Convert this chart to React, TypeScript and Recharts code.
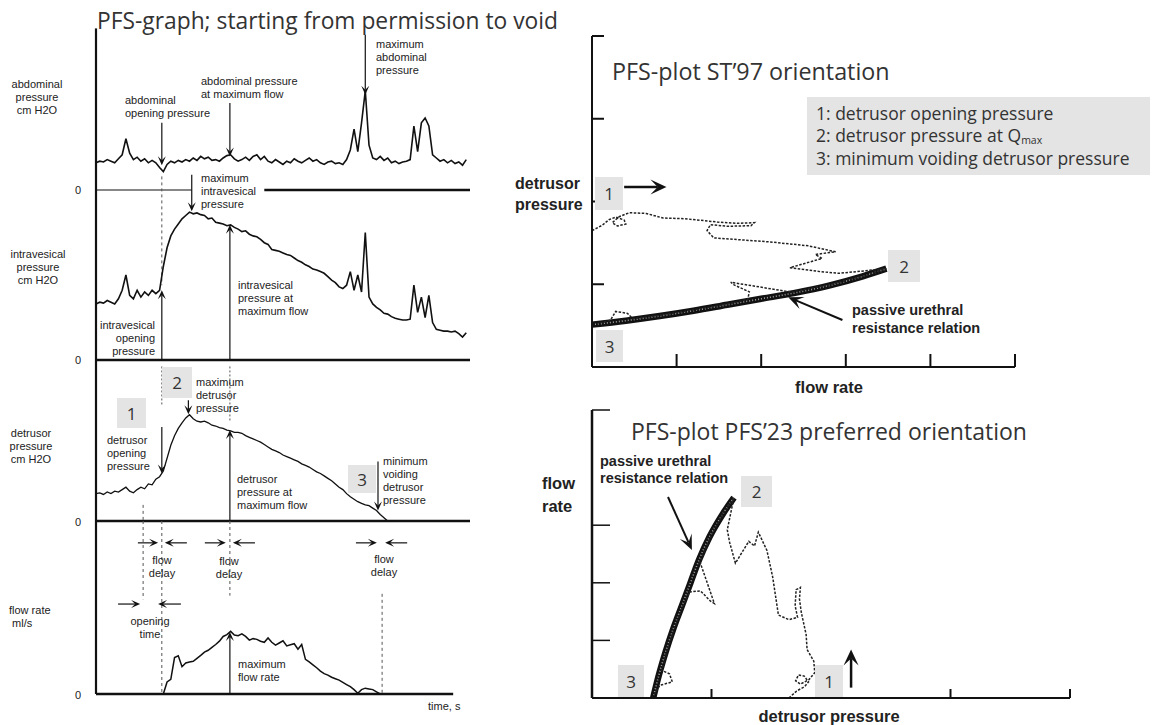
import React from "react";
import { LineChart, Line, XAxis, YAxis, ReferenceLine } from "recharts";

// PFS-graph, one sample per second from permission to void (s)
const abdominal = [
  17, 18, 17.5, 19, 18, 17, 19.5, 22, 32, 23,
  19, 20.5, 18, 19.5, 17, 18.5, 17, 14, 11.5, 16,
  18, 17, 18.5, 17.5, 19, 18, 20, 18.5, 21, 19.5,
  20.5, 18.5, 19, 18, 20, 21.5, 22, 19.5, 18, 19,
  20.5, 18.5, 21, 22, 19, 21, 18, 17, 19, 17.5,
  16, 18, 17, 19.5, 18, 17, 18.5, 20, 18, 19,
  17, 16, 17.5, 18, 16.5, 17, 16, 19, 25, 38,
  24, 42, 62, 28, 20, 19, 21, 18.5, 20, 17,
  18, 16.5, 17.5, 18, 19, 40, 24, 42, 45, 40,
  22, 20, 18, 19, 17, 18.5, 16.5, 17.5, 15.5, 19,
];

const intravesical = [
  33, 34, 33.5, 35, 34, 33, 36, 41, 50, 38,
  36, 41, 37, 40, 38, 41, 39, 41, 55, 66,
  73, 77, 80, 83, 85, 87, 86, 86.5, 85.5, 85,
  83, 83.5, 81, 80.5, 80, 79, 79.5, 78, 77, 75.5,
  76, 74, 73, 72.5, 71, 69, 68, 65, 64.5, 64,
  63, 62, 61.5, 60, 58.5, 57.5, 56, 55, 53.5, 53,
  52, 51, 49, 47, 45.5, 43, 42, 44, 52, 41,
  50, 40, 75, 37, 33, 31, 29.5, 27.5, 27, 25.5,
  24.5, 24, 23.5, 23.5, 24, 44, 28, 37, 25, 38,
  22, 18, 17.5, 17, 17, 16.5, 17, 15.5, 13.5, 16,
];

const detrusor = [
  17, 17.5, 16.5, 18, 17, 18.5, 18, 19.5, 21, 18.5,
  17.5, 19.5, 21, 20, 23, 22.5, 26, 27.5, 31, 39,
  47, 53, 57.5, 61, 64, 66, 63.5, 62, 61.5, 62,
  61, 59.5, 59, 58, 57.5, 56.5, 56, 55, 55, 54.5,
  53, 52, 51, 50, 49, 47.5, 46, 44.5, 43.5, 42.5,
  41, 40, 39, 38, 37, 35.5, 34.5, 33.5, 32, 30.5,
  29.5, 28, 26.5, 25, 23, 21, 19.5, 17, 15, 13.5,
  12, 11, 10, 9.5, 8, 6.5, 4, 2, 0, 0, 0,
];

const flowRate = [
  null, null, null, null, null, null, null, null, null, null,
  null, null, null, null, null, null, null, null, 0, 3.3,
  4, 10, 10.5, 7.5, 8.5, 8.8, 9, 9.8, 10.6, 11.5,
  12, 12.8, 13.6, 14.5, 15.8, 16.3, 17.2, 16.2, 16, 16.5,
  15.8, 14.8, 15.2, 15, 14.5, 14.2, 15.4, 14.2, 13.4, 14,
  14.6, 13.2, 13.5, 13.8, 12.3, 13.6, 9.5, 8.8, 8, 7.2,
  6.3, 5.6, 5.2, 4.6, 4.2, 3.8, 3.2, 2.6, 2, 1.2,
  0.2, 1.2, 1.6, 1.4, 1.2, 0.6, 0,
];

// PFS-plot trace: flow rate (ml/s) against detrusor pressure (cm H2O)
const pfsFlow = [
  0, 0.6, 1.0, 1.4, 1.9, 2.0, 1.5, 1.2, 1.6, 2.2, 3.2, 4.2, 5.5, 7.4, 8.6, 9.6, 9.4, 8.0, 7.0, 6.8,
  7.2, 10.5, 12.8, 14.4, 13.2, 13.6, 11.7, 13.5, 14.6, 17.4,
  16.0, 14.0, 11.8, 8.2, 8.4, 9.3, 9.2, 8.0, 6.0, 4.0, 2.4, 2.1, 1.4, 1.1, 0.3,
];
const pfsPressure = [
  41.2, 42.8, 44.5, 45.3, 44.4, 43.2, 42.6, 43.6, 45.4, 46.6, 46.4, 45.0, 44.8, 43.8, 43.4, 43.6, 42.7, 42.5, 43.0, 41.2,
  39.0, 37.8, 36.6, 34.8, 34.0, 32.8, 30.0, 28.8, 28.3, 29.7,
  27.4, 24.8, 22.6, 25.6, 24.8, 22.7, 20.4, 19.0, 17.2, 15.6, 14.6, 16.2, 16.8, 14.2, 13.0,
];

// passive urethral resistance relation
const purrFlow = [0, 2, 4, 6, 8, 10, 12, 14, 16, 17.4];
const purrPressure = [12.8, 14.0, 15.4, 17.0, 18.8, 20.6, 22.4, 24.6, 27.4, 29.7];

const graphRows = abdominal.map((v, i) => ({
  t: i,
  abd: v,
  ves: intravesical[i],
  det: i < detrusor.length ? detrusor[i] : null,
  flow: i < flowRate.length ? flowRate[i] : null,
}));
const pfsTrace = pfsFlow.map((f, i) => ({ flow: f, pressure: pfsPressure[i] }));
const purrCurve = purrFlow.map((f, i) => ({ flow: f, pressure: purrPressure[i] }));

const SMALL = '"Liberation Sans", Arial, sans-serif';
const TITLE = '"Open Sans", "Noto Sans", sans-serif';
const INK = "#111";
const M = 40;
const LX = 96;
const LW = 374;

const PATTERN = {
  backgroundColor: "#e4e4e4",
  backgroundImage: "radial-gradient(circle, #c6c6c6 0.5px, transparent 0.7px)",
  backgroundSize: "2px 2px",
};

function ArrowPath(p: any) {
  const { x1, y1, x2, y2, head = 9, half = 4, w = 1.2, color = INK } = p;
  const dx = x2 - x1;
  const dy = y2 - y1;
  const len = Math.hypot(dx, dy) || 1;
  const ux = dx / len;
  const uy = dy / len;
  const bx = x2 - ux * head;
  const by = y2 - uy * head;
  const nx = x2 - ux * head * 0.55;
  const ny = y2 - uy * head * 0.55;
  return (
    <g>
      <line x1={x1} y1={y1} x2={nx} y2={ny} stroke={color} strokeWidth={w} />
      <path
        d={`M${x2},${y2} L${bx - uy * half},${by + ux * half} L${nx},${ny} L${bx + uy * half},${by - ux * half} Z`}
        fill={color}
      />
    </g>
  );
}

const arrow = (head = 9, half = 4, w = 1.2) => (p: any) => <ArrowPath {...p} head={head} half={half} w={w} />;

const seg = (x1: number, y1: number, x2: number, y2: number) => [
  { x: x1, y: y1 },
  { x: x2, y: y2 },
];

function Label({
  x, y, lines, size = 11, lh = 13, align = "left", bold = false, font = SMALL, color = "#222",
}: {
  x: number; y: number; lines: React.ReactNode[]; size?: number; lh?: number;
  align?: "left" | "center" | "right"; bold?: boolean; font?: string; color?: string;
}) {
  const shift = align === "center" ? "-50%" : align === "right" ? "-100%" : "0";
  return (
    <div
      style={{
        position: "absolute", left: x, top: y - lh / 2, transform: `translateX(${shift})`,
        fontFamily: font, fontSize: size, lineHeight: `${lh}px`, fontWeight: bold ? 700 : 400,
        color, textAlign: align, whiteSpace: "nowrap",
      }}
    >
      {lines.map((l, i) => (
        <div key={i} style={{ height: lh }}>{l}</div>
      ))}
    </div>
  );
}

function NumBox({ x, y, w, h, n }: { x: number; y: number; w: number; h: number; n: string }) {
  return (
    <div
      style={{
        position: "absolute", left: x, top: y, width: w, height: h, ...PATTERN,
        display: "flex", alignItems: "center", justifyContent: "center",
        fontFamily: TITLE, fontSize: 17, color: "#333",
      }}
    >
      {n}
    </div>
  );
}

const at = (left: number, top: number) => ({ position: "absolute" as const, left: left - M, top: top - M });
const margin = { top: M, right: M, bottom: M, left: M };
const trace = { stroke: INK, strokeWidth: 1.6, dot: false, type: "linear" as const, isAnimationActive: false };
const dash = { stroke: "#555", strokeWidth: 1, strokeDasharray: "3 3", ifOverflow: "visible" as const };
const zero = { stroke: INK, strokeWidth: 2.5, ifOverflow: "visible" as const };
const axisRef = { stroke: INK, strokeWidth: 2.2, ifOverflow: "visible" as const };
const pfsLine = { stroke: "#222", strokeWidth: 1.5, strokeDasharray: "2.5 1.5", dot: false, type: "linear" as const, isAnimationActive: false };

export default function App() {
  return (
    <div style={{ position: "absolute", left: 0, top: 0, width: 1156, height: 725, background: "#fff", overflow: "hidden" }}>
      {/* abdominal pressure */}
      <div style={at(LX, 30)}>
        <LineChart width={LW + 2 * M} height={160 + 2 * M} data={graphRows} margin={margin}>
          <XAxis dataKey="t" type="number" domain={[0, 100]} hide />
          <YAxis type="number" domain={[0, 100]} hide />
          <ReferenceLine segment={seg(0, 0, 0, 101)} {...axisRef} />
          <ReferenceLine segment={seg(0, 0, 25.6, 0)} stroke={INK} strokeWidth={1.1} ifOverflow="visible" />
          <ReferenceLine segment={seg(45, 0, 100, 0)} {...zero} />
          <Line dataKey="abd" {...trace} />
          <ReferenceLine segment={seg(17.6, 42, 17.6, 15.5)} ifOverflow="visible" shape={arrow()} />
          <ReferenceLine segment={seg(35.8, 54.4, 35.8, 21)} ifOverflow="visible" shape={arrow()} />
          <ReferenceLine segment={seg(72, 97, 72, 59.5)} ifOverflow="visible" shape={arrow()} />
        </LineChart>
      </div>

      {/* intravesical pressure */}
      <div style={at(LX, 190)}>
        <LineChart width={LW + 2 * M} height={170 + 2 * M} data={graphRows} margin={margin}>
          <XAxis dataKey="t" type="number" domain={[0, 100]} hide />
          <YAxis type="number" domain={[0, 100]} hide />
          <ReferenceLine segment={seg(0, 0, 0, 100)} {...axisRef} />
          <ReferenceLine segment={seg(0, 0, 100, 0)} {...zero} />
          <ReferenceLine segment={seg(17.6, 108, 17.6, 44)} {...dash} />
          <Line dataKey="ves" {...trace} />
          <ReferenceLine segment={seg(25.6, 109, 25.6, 87.5)} ifOverflow="visible" shape={arrow()} />
          <ReferenceLine segment={seg(17.6, 0, 17.6, 41)} ifOverflow="visible" shape={arrow()} />
          <ReferenceLine segment={seg(35.8, 0, 35.8, 79.5)} ifOverflow="visible" shape={arrow()} />
        </LineChart>
      </div>

      {/* detrusor pressure */}
      <div style={at(LX, 360)}>
        <LineChart width={LW + 2 * M} height={161 + 2 * M} data={graphRows} margin={margin}>
          <XAxis dataKey="t" type="number" domain={[0, 100]} hide />
          <YAxis type="number" domain={[0, 100]} hide />
          <ReferenceLine segment={seg(0, 0, 0, 100)} {...axisRef} />
          <ReferenceLine segment={seg(0, 0, 100, 0)} {...zero} />
          <ReferenceLine segment={seg(17.6, 96, 17.6, 72)} {...dash} strokeDasharray="2 2" />
          <ReferenceLine segment={seg(35.8, 96, 35.8, 62)} {...dash} strokeDasharray="2 2" />
          <ReferenceLine segment={seg(12.6, 10, 12.6, 0)} {...dash} />
          <Line dataKey="det" {...trace} strokeWidth={1.3} />
          <ReferenceLine segment={seg(17.6, 58.4, 17.6, 29.5)} ifOverflow="visible" shape={arrow()} />
          <ReferenceLine segment={seg(24.7, 75, 24.7, 66.3)} ifOverflow="visible" shape={arrow()} />
          <ReferenceLine segment={seg(35.8, 0, 35.8, 56.5)} ifOverflow="visible" shape={arrow()} />
          <ReferenceLine segment={seg(75.4, 37, 75.4, 6.5)} ifOverflow="visible" shape={arrow()} />
        </LineChart>
      </div>

      {/* flow rate */}
      <div style={at(LX, 521)}>
        <LineChart width={LW + 2 * M} height={173 + 2 * M} data={graphRows} margin={margin}>
          <XAxis dataKey="t" type="number" domain={[0, 100]} hide />
          <YAxis type="number" domain={[0, 47.5]} hide />
          <ReferenceLine segment={seg(0, 0, 0, 47.5)} {...axisRef} />
          <ReferenceLine segment={seg(0, 0, 95.5, 0)} {...zero} />
          <ReferenceLine segment={seg(12.6, 47.5, 12.6, 26)} {...dash} />
          <ReferenceLine segment={seg(17.6, 47.5, 17.6, 0)} {...dash} />
          <ReferenceLine segment={seg(35.8, 47.5, 35.8, 27)} {...dash} />
          <ReferenceLine segment={seg(76.5, 27.5, 76.5, 0)} {...dash} />
          <Line dataKey="flow" {...trace} strokeWidth={1.5} />
          <ReferenceLine segment={seg(11.2, 41.5, 16.6, 41.5)} ifOverflow="visible" shape={arrow()} />
          <ReferenceLine segment={seg(24.3, 41.5, 18.4, 41.5)} ifOverflow="visible" shape={arrow()} />
          <ReferenceLine segment={seg(29.1, 41.5, 34.7, 41.5)} ifOverflow="visible" shape={arrow()} />
          <ReferenceLine segment={seg(42.5, 41.5, 36.6, 41.5)} ifOverflow="visible" shape={arrow()} />
          <ReferenceLine segment={seg(69.5, 41.5, 75.1, 41.5)} ifOverflow="visible" shape={arrow()} />
          <ReferenceLine segment={seg(83.2, 41.5, 77.3, 41.5)} ifOverflow="visible" shape={arrow()} />
          <ReferenceLine segment={seg(5.9, 24.7, 11.8, 24.7)} ifOverflow="visible" shape={arrow()} />
          <ReferenceLine segment={seg(22.7, 24.7, 16.6, 24.7)} ifOverflow="visible" shape={arrow()} />
          <ReferenceLine segment={seg(35.8, 0, 35.8, 17)} ifOverflow="visible" shape={arrow()} />
        </LineChart>
      </div>

      {/* PFS-plot, ST'97 orientation: flow on x, pressure on y */}
      <div style={at(592, 36)}>
        <LineChart width={423 + 2 * M} height={331 + 2 * M} margin={margin}>
          <XAxis
            dataKey="flow" type="number" domain={[0, 25]} ticks={[5, 10, 15, 20, 25]} mirror tickSize={13}
            tickFormatter={() => ""} axisLine={{ stroke: INK, strokeWidth: 2 }} tickLine={{ stroke: INK, strokeWidth: 2 }}
          />
          <YAxis
            type="number" domain={[0, 100]} ticks={[25, 50, 75, 100]} mirror tickSize={12}
            tickFormatter={() => ""} axisLine={{ stroke: INK, strokeWidth: 2 }} tickLine={{ stroke: INK, strokeWidth: 2 }}
          />
          <Line data={purrCurve} dataKey="pressure" type="monotone" stroke={INK} strokeWidth={6.5} dot={false} isAnimationActive={false} />
          <Line data={purrCurve} dataKey="pressure" type="monotone" stroke="#a0a0a0" strokeWidth={1.6} strokeDasharray="1 2" dot={false} isAnimationActive={false} />
          <Line data={pfsTrace} dataKey="pressure" {...pfsLine} />
          <ReferenceLine segment={seg(1.9, 54.4, 4.4, 54.4)} ifOverflow="visible" shape={arrow(16, 7.5, 2.5)} />
          <ReferenceLine segment={seg(14.8, 14.2, 11.6, 21.1)} ifOverflow="visible" shape={arrow(15, 6.5, 2)} />
        </LineChart>
      </div>

      {/* PFS-plot, PFS'23 orientation: pressure on x, flow on y */}
      <div style={at(592, 410)}>
        <LineChart width={478 + 2 * M} height={288 + 2 * M} margin={margin}>
          <XAxis
            dataKey="pressure" type="number" domain={[0, 100]} ticks={[25, 50, 75, 100]} mirror tickSize={9}
            tickFormatter={() => ""} axisLine={{ stroke: INK, strokeWidth: 2 }} tickLine={{ stroke: INK, strokeWidth: 2 }}
          />
          <YAxis
            type="number" domain={[0, 25]} ticks={[5, 10, 15, 25]} mirror tickSize={18}
            tickFormatter={() => ""} axisLine={{ stroke: INK, strokeWidth: 2.5 }} tickLine={{ stroke: INK, strokeWidth: 1.5 }}
          />
          <Line data={purrCurve} dataKey="flow" type="monotone" stroke={INK} strokeWidth={6.5} dot={false} isAnimationActive={false} />
          <Line data={purrCurve} dataKey="flow" type="monotone" stroke="#a0a0a0" strokeWidth={1.6} strokeDasharray="1 2" dot={false} isAnimationActive={false} />
          <Line data={pfsTrace} dataKey="flow" {...pfsLine} />
          <ReferenceLine segment={seg(15.9, 17.45, 20.9, 12.85)} ifOverflow="visible" shape={arrow(15, 6.5, 2)} />
          <ReferenceLine segment={seg(54.2, 0.9, 54.2, 4.2)} ifOverflow="visible" shape={arrow(16, 7.5, 2.5)} />
        </LineChart>
      </div>

      {/* titles */}
      <Label x={97} y={21} lines={["PFS-graph; starting from permission to void"]} font={TITLE} size={22.8} lh={28} color="#333" />
      <Label x={612} y={71} lines={["PFS-plot ST\u201997 orientation"]} font={TITLE} size={23.3} lh={28} color="#333" />
      <Label x={631} y={431} lines={["PFS-plot PFS\u201923 preferred orientation"]} font={TITLE} size={23} lh={28} color="#333" />

      {/* legend */}
      <div style={{ position: "absolute", left: 807, top: 97, width: 343, height: 78, ...PATTERN }} />
      <Label
        x={816} y={113} lh={22.5} size={17.5} font={TITLE} color="#333"
        lines={[
          "1: detrusor opening pressure",
          <span key="q">
            2: detrusor pressure at Q
            <span style={{ fontSize: 10.5, lineHeight: "10px", position: "relative", top: 2 }}>max</span>
          </span>,
          "3: minimum voiding detrusor pressure",
        ]}
      />

      {/* left axis labels */}
      <Label x={37} y={84} align="center" lines={["abdominal", "pressure", "cm H2O"]} />
      <Label x={38} y={254} align="center" lines={["intravesical", "pressure", "cm H2O"]} />
      <Label x={31} y={433} align="center" lines={["detrusor", "pressure", "cm H2O"]} />
      <Label x={9} y={610} lines={["flow rate", "\u00a0ml/s"]} />
      <Label x={78} y={190} align="center" lines={["0"]} />
      <Label x={78} y={360} align="center" lines={["0"]} />
      <Label x={78} y={522} align="center" lines={["0"]} />
      <Label x={78} y={695} align="center" lines={["0"]} />
      <Label x={428} y={706} lines={["time, s"]} />

      {/* left annotations */}
      <Label x={125} y={100} lines={["abdominal", "opening pressure"]} />
      <Label x={201} y={81} lines={["abdominal pressure", "at maximum flow"]} />
      <Label x={376} y={44} lines={["maximum", "abdominal", "pressure"]} />
      <Label x={201} y={178} lines={["maximum", "intravesical", "pressure"]} />
      <Label x={155} y={325} align="right" lines={["intravesical", "opening", "pressure"]} />
      <Label x={238} y={285} lines={["intravesical", "pressure at", "maximum flow"]} />
      <Label x={107} y={440} lines={["detrusor", "opening", "pressure"]} />
      <Label x={196} y={382} lines={["maximum", "detrusor", "pressure"]} />
      <Label x={237} y={479} lines={["detrusor", "pressure at", "maximum flow"]} />
      <Label x={383} y={461} lines={["minimum", "voiding", "detrusor", "pressure"]} />
      <Label x={162} y={560} align="center" lines={["flow", "delay"]} />
      <Label x={229} y={561} align="center" lines={["flow", "delay"]} />
      <Label x={384} y={559} align="center" lines={["flow", "delay"]} />
      <Label x={150} y={621} align="center" lines={["opening", "time"]} />
      <Label x={238} y={664} lines={["maximum", "flow rate"]} />

      <NumBox x={117} y={398} w={29} h={30} n="1" />
      <NumBox x={162} y={367} w={30} h={31} n="2" />
      <NumBox x={348} y={465} w={28} h={28} n="3" />

      {/* right-hand labels */}
      <Label x={515} y={183} lh={21} size={16} bold lines={["detrusor", "pressure"]} />
      <Label x={829} y={387} size={16.5} bold align="center" lines={["flow rate"]} />
      <Label x={852} y={310} lh={18} size={14.5} bold lines={["passive urethral", "resistance relation"]} />
      <Label x={542} y={483} lh={23} size={16.5} bold lines={["flow", "rate"]} />
      <Label x={600} y={461} lh={17} size={14.5} bold lines={["passive urethral", "resistance relation"]} />
      <Label x={829} y={716} size={16.5} bold align="center" lines={["detrusor pressure"]} />

      <NumBox x={595} y={177} w={28} h={33} n="1" />
      <NumBox x={888} y={250} w={32} h={32} n="2" />
      <NumBox x={596} y={330} w={27} h={32} n="3" />
      <NumBox x={741} y={476} w={31} h={31} n="2" />
      <NumBox x={618} y={665} w={26} h={32} n="3" />
      <NumBox x={815} y={665} w={28} h={32} n="1" />
    </div>
  );
}
